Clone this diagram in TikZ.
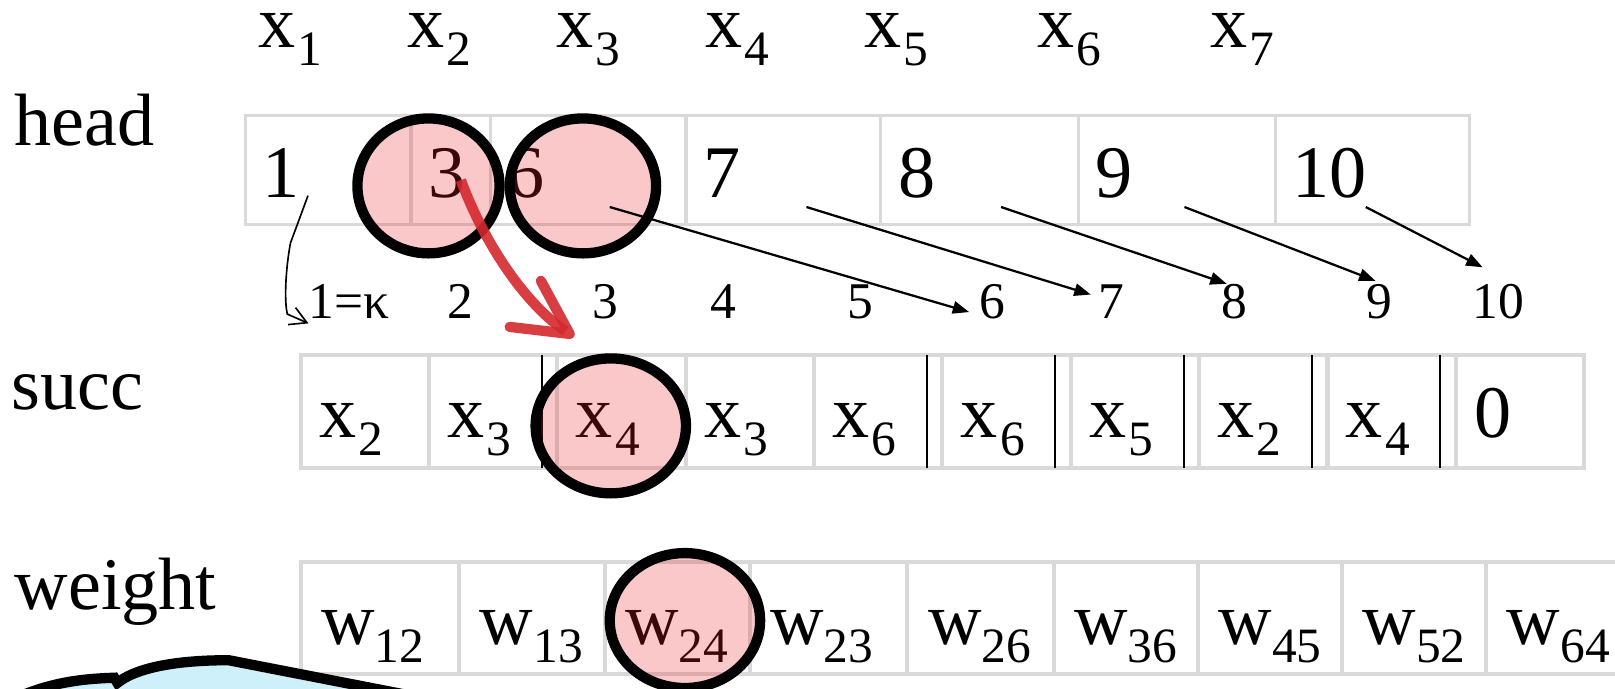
\documentclass[tikz,border=0pt]{standalone}
\usepackage{fontspec}
\setmainfont{Liberation Serif}
\usetikzlibrary{positioning,arrows.meta,shapes.geometric}

\definecolor{cellgray}{RGB}{217,217,217}
\definecolor{hlred}{RGB}{235,35,35}
\definecolor{arrred}{RGB}{212,40,46}
\definecolor{cloudfill}{RGB}{205,240,250}

\newcommand{\vsub}[2]{#1\raisebox{-0.24em}{\fontsize{48}{48}\selectfont #2}}

\begin{document}
\begin{tikzpicture}[
    x=1pt, y=1pt,
    node distance=0pt,
    big/.style={font=\fontsize{72}{80}\selectfont, inner sep=0pt, anchor=base west},
    small/.style={font=\fontsize{50}{56}\selectfont, inner sep=0pt, anchor=base west},
    cell/.style={rectangle, draw=cellgray, outer sep=0pt, inner ysep=0pt, align=left, font=\fontsize{72}{80}\selectfont, text height=80pt},
    hcell/.style={cell, line width=3pt, inner xsep=17pt, text depth=26pt, text width=#1},
    scell/.style={cell, line width=4pt, inner xsep=18pt, text depth=29pt, text width=88.6pt},
    wcell/.style={cell, line width=4pt, inner xsep=20pt, text depth=28pt, text width=#1},
    sepline/.style={line width=2pt},
    hilite/.style={ellipse, draw, line width=10pt, fill=hlred, fill opacity=0.25, inner sep=0pt},
    arr/.style={-{Triangle[length=16pt,width=12pt]}, line width=2.2pt},
    hook/.style={-{Straight Barb[length=16pt,width=18pt]}, line width=1.6pt},
    redarr/.style={draw=arrred, draw opacity=0.9, line width=10pt, -{Straight Barb[length=52pt,width=54pt,round]}}
]
\useasboundingbox (0,0) rectangle (1568,668);
\clip (0,0) rectangle (1568,668);

% Column labels
\node[big] (x1) at (251,622) {\vsub{x}{\kern2pt 1}};
\node[big] (x2) at (395,622) {\vsub{x}{\kern2pt 2}};
\node[big] (x3) at (540,622) {\vsub{x}{\kern2pt 3}};
\node[big] (x4) at (685,622) {\vsub{x}{\kern2pt 4}};
\node[big] (x5) at (839,622) {\vsub{x}{\kern2pt 5}};
\node[big] (x6) at (1007,622) {\vsub{x}{\kern2pt 6}};
\node[big] (x7) at (1175,622) {\vsub{x}{\kern2pt 7}};

% Row labels
\node[big] (headlbl) at (14,527) {head};
\node[big] (succlbl) at (11,270) {succ};
\node[big] (weightlbl) at (14,76) {weight};

% Row 1: head
\node[hcell=127pt, anchor=south west] (h1) at (238,450) {1};
\node[hcell=43pt, right=of h1] (h2) {3};
\node[hcell=156pt, right=of h2] (h3) {6};
\node[hcell=155pt, right=of h3] (h4) {7};
\node[hcell=158pt, right=of h4] (h5) {8};
\node[hcell=157pt, right=of h5] (h6) {9};
\node[hcell=155pt, right=of h6] (h7) {10};

% Edge indices
\node[small] (i1) at (299.5,359) {1=κ};
\node[small] (i2) at (434.5,359) {2};
\node[small] (i3) at (575,359) {3};
\node[small] (i4) at (690,359) {4};
\node[small] (i5) at (822.5,359) {5};
\node[small] (i6) at (951,359) {6};
\node[small] (i7) at (1066,359) {7};
\node[small] (i8) at (1186,359) {8};
\node[small] (i9) at (1326.5,359) {9};
\node[small] (i10) at (1429.5,359) {10};

% Row 2: succ
\node[scell, anchor=south west] (s1) at (292,214) {\vsub{x}{\kern2pt 2}};
\node[scell, right=of s1] (s2) {\vsub{x}{\kern2pt 3}};
\node[scell, right=of s2] (s3) {\vsub{x}{\kern2pt 4}};
\node[scell, right=of s3] (s4) {\vsub{x}{\kern2pt 3}};
\node[scell, right=of s4] (s5) {\vsub{x}{\kern2pt 6}};
\node[scell, right=of s5] (s6) {\vsub{x}{\kern2pt 6}};
\node[scell, right=of s6] (s7) {\vsub{x}{\kern2pt 5}};
\node[scell, right=of s7] (s8) {\vsub{x}{\kern2pt 2}};
\node[scell, right=of s8] (s9) {\vsub{x}{\kern2pt 4}};
\node[scell, right=of s9] (s10) {0};

\draw[sepline] ([xshift=-15pt]s3.north west) -- ([xshift=-15pt]s3.south west);
\draw[sepline] ([xshift=-15pt]s6.north west) -- ([xshift=-15pt]s6.south west);
\draw[sepline] ([xshift=-15pt]s7.north west) -- ([xshift=-15pt]s7.south west);
\draw[sepline] ([xshift=-15pt]s8.north west) -- ([xshift=-15pt]s8.south west);
\draw[sepline] ([xshift=-15pt]s9.north west) -- ([xshift=-15pt]s9.south west);
\draw[sepline] ([xshift=-15pt]s10.north west) -- ([xshift=-15pt]s10.south west);

% Row 3: weight
\node[wcell=114pt, anchor=south west] (w1) at (292,14) {\vsub{w}{12}};
\node[wcell=101pt, right=of w1] (w2) {\vsub{w}{13}};
\node[wcell=101pt, right=of w2] (w3) {\vsub{w}{24}};
\node[wcell=113pt, right=of w3] (w4) {\vsub{w}{23}};
\node[wcell=102pt, right=of w4] (w5) {\vsub{w}{26}};
\node[wcell=100pt, right=of w5] (w6) {\vsub{w}{36}};
\node[wcell=100pt, right=of w6] (w7) {\vsub{w}{45}};
\node[wcell=100pt, right=of w7] (w8) {\vsub{w}{52}};
\node[wcell=110pt, right=of w8] (w9) {\vsub{w}{64}};

% Highlighted entries
\node[hilite, minimum width=138pt, minimum height=131pt] (hl1) at (416,487.5) {};
\node[hilite, minimum width=142pt, minimum height=131pt] (hl2) at (566,487.5) {};
\node[hilite, minimum width=146pt, minimum height=131pt] (hl3) at (593,254.5) {};
\node[hilite, minimum width=146pt, minimum height=131pt] (hl4) at (665,65.5) {};

% head -> first edge index
\draw[hook] ([xshift=61pt,yshift=28pt]h1.south west) -- (282,432) .. controls (277,405) and (276,375) .. (279,363) -- ([yshift=-5pt]i1.base west);
\draw[arr] ([xshift=116pt,yshift=17pt]h3.south west) -- ([xshift=-10pt,yshift=6pt]i6.base west);
\draw[arr] ([xshift=117pt,yshift=17pt]h4.south west) -- ([xshift=-7pt,yshift=23pt]i7.base west);
\draw[arr] ([xshift=117pt,yshift=17pt]h5.south west) -- ([xshift=5pt]i8.north west);
\draw[arr] ([xshift=103pt,yshift=17pt]h6.south west) -- ([xshift=9pt,yshift=3pt]i9.north west);
\draw[arr] ([xshift=88pt,yshift=17pt]h7.south west) -- ([xshift=10pt,yshift=16pt]i10.north west);

% Red pointer into succ
\draw[redarr] ([xshift=10pt,yshift=-10pt]h2.center) .. controls (468,437) and (507,375) .. ([xshift=16pt,yshift=18pt]s3.north west);

% Callout at bottom left
\draw[line width=10pt, fill=cloudfill] (15,-10) .. controls (50,6) and (82,9) .. (111,10) -- (114,5) .. controls (130,18) and (165,27) .. (222,27) -- (412,-10) -- cycle;

\end{tikzpicture}
\end{document}
